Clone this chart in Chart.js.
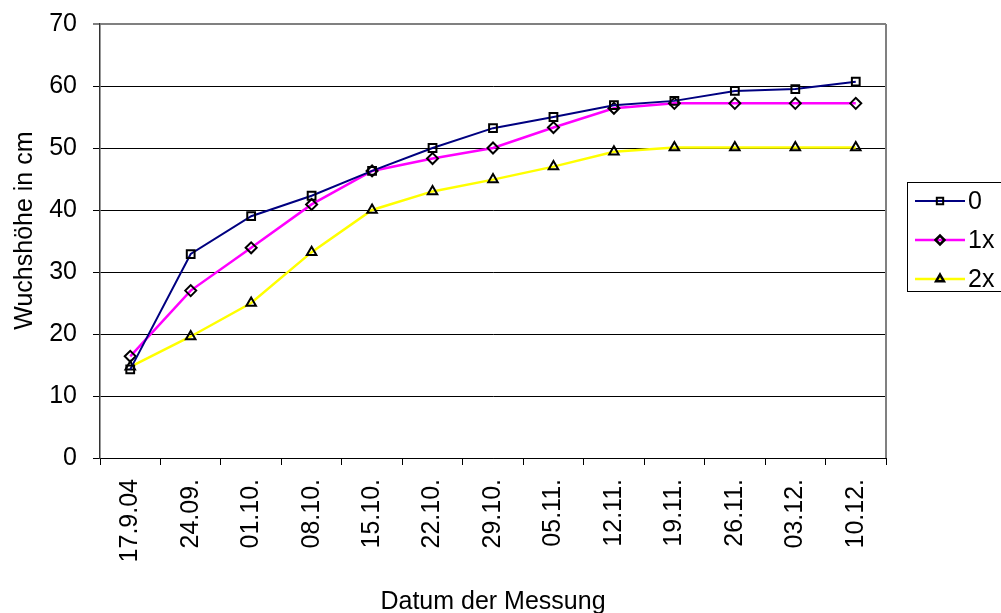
<!DOCTYPE html>
<html>
<head>
<meta charset="utf-8">
<script src="https://cdn.jsdelivr.net/npm/chart.js@4.4.0/dist/chart.umd.min.js"></script>
<style>
  html, body { margin: 0; padding: 0; background: #fff; }
  canvas { display: block; }
</style>
</head>
<body>
<canvas id="growth-chart" width="1001" height="613"></canvas>
<script>
// Messdaten
const dates = ['17.9.04', '24.09.', '01.10.', '08.10.', '15.10.', '22.10.', '29.10.', '05.11.', '12.11.', '19.11.', '26.11.', '03.12.', '10.12.'];
const series0 = [14.3, 32.9, 39.0, 42.3, 46.3, 50.0, 53.2, 55.0, 56.9, 57.6, 59.2, 59.5, 60.7];
const series1x = [16.4, 27.0, 33.9, 40.9, 46.3, 48.3, 50.0, 53.3, 56.4, 57.2, 57.2, 57.2, 57.2];
const series2x = [14.7, 19.6, 25.0, 33.2, 40.0, 43.0, 44.9, 47.0, 49.4, 50.1, 50.1, 50.1, 50.1];
const seriesNames = ['0', '1x', '2x'];
const yTicks = [0, 10, 20, 30, 40, 50, 60, 70];

const FONT = 'Liberation Sans, Arial, sans-serif';
const FONT_SIZE = 25;

function makeDataset(label, data, color, style, width) {
    return {
        label: label,
        data: data,
        borderColor: color,
        borderWidth: width,
        tension: 0,
        pointStyle: style,
        pointRadius: 5.5,
        pointHoverRadius: 5.5,
        pointBorderColor: '#000',
        pointBackgroundColor: 'rgba(0,0,0,0)',
        pointBorderWidth: 2
    };
}

// Rahmen rechts und Legende
const framePlugin = {
    id: 'frame',
    afterDraw(chart) {
        const ctx = chart.ctx;
        const a = chart.chartArea;
        ctx.save();
        ctx.strokeStyle = '#808080';
        ctx.lineWidth = 2;
        ctx.beginPath();
        ctx.moveTo(a.right, a.top);
        ctx.lineTo(a.right, a.bottom);
        ctx.stroke();
        ctx.restore();

        // Legende
        const box = { x: 907, y: 182, w: 110, h: 109 };
        ctx.save();
        ctx.strokeStyle = '#000';
        ctx.lineWidth = 1;
        ctx.strokeRect(box.x + 0.5, box.y + 0.5, box.w, box.h);
        const rows = [201, 240, 279];
        chart.data.datasets.forEach((ds, i) => {
            const y = rows[i];
            ctx.strokeStyle = ds.borderColor;
            ctx.lineWidth = ds.borderWidth;
            ctx.beginPath();
            ctx.moveTo(915, y);
            ctx.lineTo(965, y);
            ctx.stroke();
            ctx.strokeStyle = '#000';
            ctx.fillStyle = 'rgba(0,0,0,0)';
            Chart.helpers.drawPoint(ctx, {
                pointStyle: ds.pointStyle,
                radius: 4.5,
                borderWidth: 2
            }, 940, y);
            ctx.fillStyle = '#000';
            ctx.font = FONT_SIZE + 'px ' + FONT;
            ctx.textBaseline = 'middle';
            ctx.textAlign = 'left';
            ctx.fillText(ds.label, 968, y + 1);
        });
        ctx.restore();
    }
};

document.addEventListener('DOMContentLoaded', function() {
    const canvas = document.getElementById('growth-chart');
    Chart.defaults.font.family = FONT;
    Chart.defaults.font.size = FONT_SIZE;
    Chart.defaults.color = '#000';

    new Chart(canvas, {
        type: 'line',
        data: {
            labels: dates,
            datasets: [
                makeDataset(seriesNames[0], series0, '#000080', 'rect', 2),
                makeDataset(seriesNames[1], series1x, '#FF00FF', 'rectRot', 2.5),
                makeDataset(seriesNames[2], series2x, '#FFFF00', 'triangle', 2.5)
            ]
        },
        options: {
            responsive: false,
            animation: false,
            devicePixelRatio: 1,
            layout: { padding: { left: 0, top: 24, right: 115, bottom: 0 } },
            plugins: {
                legend: { display: false },
                tooltip: { enabled: false }
            },
            scales: {
                x: {
                    offset: true,
                    grid: {
                        offset: true,
                        drawOnChartArea: false,
                        drawTicks: true,
                        tickLength: 7,
                        color: '#000'
                    },
                    border: { color: '#000', width: 1 },
                    ticks: {
                        maxRotation: 90,
                        minRotation: 90,
                        autoSkip: false,
                        padding: 14
                    },
                    title: {
                        display: true,
                        text: 'Datum der Messung',
                        font: { size: FONT_SIZE, lineHeight: 0.85 },
                        padding: { top: 0, bottom: 0 }
                    },
                    afterFit(scale) {
                        scale.height = 613 - 458;
                        scale.paddingLeft = 0;
                        scale.paddingRight = 0;
                    }
                },
                y: {
                    min: 0,
                    max: 70,
                    afterBuildTicks(scale) {
                        scale.ticks = yTicks.map(v => ({ value: v }));
                    },
                    grid: {
                        color: c => (c.tick && c.tick.value === 70 ? '#808080' : '#000'),
                        lineWidth: c => (c.tick && c.tick.value === 70 ? 2 : 1),
                        tickLength: 7
                    },
                    border: { color: '#333', width: 1.5 },
                    ticks: { padding: 16 },
                    title: {
                        display: true,
                        text: '   Wuchshöhe in cm',
                        padding: { top: 10, bottom: 0 }
                    },
                    afterFit(scale) {
                        scale.width = 100;
                        scale.paddingTop = 0;
                        scale.paddingBottom = 0;
                    }
                }
            }
        },
        plugins: [framePlugin]
    });
});
</script>
</body>
</html>
